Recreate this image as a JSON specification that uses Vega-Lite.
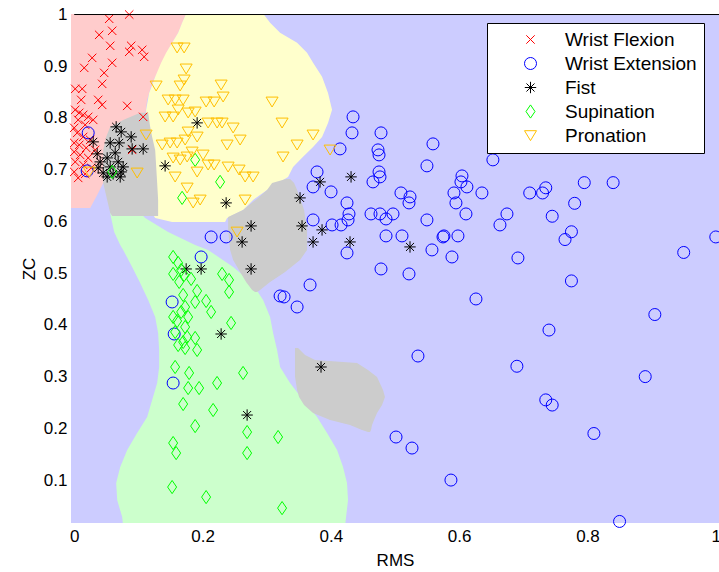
{
"$schema":"https://vega.github.io/schema/vega-lite/v6.json",
"width":648,"height":509,"autosize":"none",
"padding":{"left":71,"top":14,"right":0,"bottom":49},
"background":"white",
"config":{
 "view":{"fill":"#ccccff","stroke":null},
 "axis":{"domain":false,"ticks":false,"tickSize":0,"grid":false,"labelFlush":false,"labelOverlap":false,"labelFont":"Liberation Sans","labelFontSize":17,"labelColor":"#000","titleFont":"Liberation Sans","titleFontSize":17,"titleFontWeight":"normal","titleColor":"#000"},
 "axisX":{"labelPadding":5,"titlePadding":8},
 "axisY":{"labelPadding":4,"titlePadding":5}
},
"datasets":{
"regions":[
{"c":"flex","p":"a","y":1.002,"x0":-0.01,"x1":0.1745},
{"c":"flex","p":"a","y":0.9646,"x0":-0.01,"x1":0.1620},
{"c":"flex","p":"a","y":0.9317,"x0":-0.01,"x1":0.1464},
{"c":"flex","p":"a","y":0.8988,"x0":-0.01,"x1":0.1340},
{"c":"flex","p":"a","y":0.8679,"x0":-0.01,"x1":0.1215},
{"c":"flex","p":"a","y":0.8350,"x0":-0.01,"x1":0.1137},
{"c":"flex","p":"a","y":0.8060,"x0":-0.01,"x1":0.1106},
{"c":"flex","p":"a","y":0.7383,"x0":-0.01,"x1":0.1028},
{"c":"flex","p":"a","y":0.6745,"x0":-0.01,"x1":0.0452},
{"c":"flex","p":"a","y":0.6513,"x0":-0.01,"x1":0.0358},
{"c":"flex","p":"a","y":0.6261,"x0":-0.01,"x1":0.0249},
{"c":"pron","p":"a","y":1.002,"x0":0.1745,"x1":0.2944},
{"c":"pron","p":"a","y":0.9839,"x0":0.1682,"x1":0.3053},
{"c":"pron","p":"a","y":0.9646,"x0":0.1620,"x1":0.3209},
{"c":"pron","p":"a","y":0.9453,"x0":0.1526,"x1":0.3474},
{"c":"pron","p":"a","y":0.9259,"x0":0.1433,"x1":0.3629},
{"c":"pron","p":"a","y":0.9066,"x0":0.1355,"x1":0.3723},
{"c":"pron","p":"a","y":0.8795,"x0":0.1262,"x1":0.3863},
{"c":"pron","p":"a","y":0.8485,"x0":0.1168,"x1":0.3956},
{"c":"pron","p":"a","y":0.8157,"x0":0.1121,"x1":0.4019},
{"c":"pron","p":"a","y":0.7905,"x0":0.1121,"x1":0.3956},
{"c":"pron","p":"a","y":0.7634,"x0":0.1153,"x1":0.3863},
{"c":"pron","p":"a","y":0.7441,"x0":0.1184,"x1":0.3723},
{"c":"pron","p":"a","y":0.7248,"x0":0.1184,"x1":0.3567},
{"c":"pron","p":"a","y":0.7054,"x0":0.1184,"x1":0.3411},
{"c":"pron","p":"a","y":0.6861,"x0":0.1184,"x1":0.3333},
{"c":"pron","p":"a","y":0.6803,"x0":0.1184,"x1":0.3255},
{"c":"pron","p":"a","y":0.6609,"x0":0.1184,"x1":0.3006},
{"c":"pron","p":"a","y":0.6416,"x0":0.1184,"x1":0.2788},
{"c":"pron","p":"a","y":0.6222,"x0":0.1184,"x1":0.2632},
{"c":"pron","p":"a","y":0.6068,"x0":0.1262,"x1":0.2383},
{"c":"pron","p":"a","y":0.5990,"x0":0.1526,"x1":0.2352},
{"c":"sup","p":"a","y":0.6164,"x0":0.0561,"x1":0.1028},
{"c":"sup","p":"a","y":0.6068,"x0":0.0576,"x1":0.1106},
{"c":"sup","p":"a","y":0.5797,"x0":0.0623,"x1":0.1464},
{"c":"sup","p":"a","y":0.5545,"x0":0.0717,"x1":0.1885},
{"c":"sup","p":"a","y":0.5449,"x0":0.0763,"x1":0.2087},
{"c":"sup","p":"a","y":0.5120,"x0":0.0903,"x1":0.2477},
{"c":"sup","p":"a","y":0.4810,"x0":0.1028,"x1":0.2773},
{"c":"sup","p":"a","y":0.4482,"x0":0.1153,"x1":0.2944},
{"c":"sup","p":"a","y":0.4153,"x0":0.1262,"x1":0.3053},
{"c":"sup","p":"a","y":0.3843,"x0":0.1308,"x1":0.3100},
{"c":"sup","p":"a","y":0.3515,"x0":0.1324,"x1":0.3162},
{"c":"sup","p":"a","y":0.3186,"x0":0.1324,"x1":0.3209},
{"c":"sup","p":"a","y":0.2876,"x0":0.1293,"x1":0.3364},
{"c":"sup","p":"a","y":0.2547,"x0":0.1215,"x1":0.3567},
{"c":"sup","p":"a","y":0.2219,"x0":0.1137,"x1":0.3785},
{"c":"sup","p":"a","y":0.1909,"x0":0.0981,"x1":0.3941},
{"c":"sup","p":"a","y":0.1580,"x0":0.0826,"x1":0.4097},
{"c":"sup","p":"a","y":0.1251,"x0":0.0717,"x1":0.4190},
{"c":"sup","p":"a","y":0.0942,"x0":0.0654,"x1":0.4252},
{"c":"sup","p":"a","y":0.0613,"x0":0.0670,"x1":0.4268},
{"c":"sup","p":"a","y":0.0284,"x0":0.0748,"x1":0.4237},
{"c":"sup","p":"a","y":0.0100,"x0":0.0763,"x1":0.4221},
{"c":"fist","p":"a","y":0.8099,"x0":0.1028,"x1":0.1153},
{"c":"fist","p":"a","y":0.7963,"x0":0.0763,"x1":0.1168},
{"c":"fist","p":"a","y":0.7828,"x0":0.0561,"x1":0.1184},
{"c":"fist","p":"a","y":0.7634,"x0":0.0498,"x1":0.1215},
{"c":"fist","p":"a","y":0.7383,"x0":0.0452,"x1":0.1262},
{"c":"fist","p":"a","y":0.6745,"x0":0.0452,"x1":0.1293},
{"c":"fist","p":"a","y":0.6416,"x0":0.0514,"x1":0.1308},
{"c":"fist","p":"a","y":0.6164,"x0":0.0561,"x1":0.1308},
{"c":"fist","p":"a","y":0.6106,"x0":0.0592,"x1":0.1308},
{"c":"fist","p":"b","y":0.6822,"x0":0.3302,"x1":0.3364},
{"c":"fist","p":"b","y":0.6745,"x0":0.3084,"x1":0.3427},
{"c":"fist","p":"b","y":0.6609,"x0":0.3006,"x1":0.3474},
{"c":"fist","p":"b","y":0.6455,"x0":0.2866,"x1":0.3520},
{"c":"fist","p":"b","y":0.6222,"x0":0.2632,"x1":0.3583},
{"c":"fist","p":"b","y":0.6087,"x0":0.2399,"x1":0.3598},
{"c":"fist","p":"b","y":0.5836,"x0":0.2399,"x1":0.3629},
{"c":"fist","p":"b","y":0.5449,"x0":0.2430,"x1":0.3629},
{"c":"fist","p":"b","y":0.5255,"x0":0.2477,"x1":0.3520},
{"c":"fist","p":"b","y":0.5023,"x0":0.2586,"x1":0.3287},
{"c":"fist","p":"b","y":0.4830,"x0":0.2679,"x1":0.3053},
{"c":"fist","p":"b","y":0.4675,"x0":0.2773,"x1":0.2897},
{"c":"fist","p":"b","y":0.4636,"x0":0.2819,"x1":0.2850},
{"c":"fist","p":"c","y":0.3553,"x0":0.3442,"x1":0.3489},
{"c":"fist","p":"c","y":0.3418,"x0":0.3442,"x1":0.3598},
{"c":"fist","p":"c","y":0.3321,"x0":0.3442,"x1":0.3754},
{"c":"fist","p":"c","y":0.3263,"x0":0.3442,"x1":0.4408},
{"c":"fist","p":"c","y":0.3128,"x0":0.3442,"x1":0.4579},
{"c":"fist","p":"c","y":0.2992,"x0":0.3442,"x1":0.4720},
{"c":"fist","p":"c","y":0.2741,"x0":0.3474,"x1":0.4813},
{"c":"fist","p":"c","y":0.2605,"x0":0.3505,"x1":0.4844},
{"c":"fist","p":"c","y":0.2451,"x0":0.3583,"x1":0.4798},
{"c":"fist","p":"c","y":0.2296,"x0":0.3723,"x1":0.4720},
{"c":"fist","p":"c","y":0.2161,"x0":0.3988,"x1":0.4673},
{"c":"fist","p":"c","y":0.2064,"x0":0.4299,"x1":0.4642},
{"c":"fist","p":"c","y":0.1967,"x0":0.4486,"x1":0.4626},
{"c":"fist","p":"c","y":0.1928,"x0":0.4579,"x1":0.4611}
],
"points":[
{"cls":"Wrist Flexion","x":0.0857,"y":1.0},
{"cls":"Wrist Flexion","x":0.0545,"y":0.9917},
{"cls":"Wrist Flexion","x":0.0592,"y":0.9685},
{"cls":"Wrist Flexion","x":0.0389,"y":0.9607},
{"cls":"Wrist Flexion","x":0.0561,"y":0.9395},
{"cls":"Wrist Flexion","x":0.0888,"y":0.9395},
{"cls":"Wrist Flexion","x":0.1059,"y":0.9317},
{"cls":"Wrist Flexion","x":0.0857,"y":0.9279},
{"cls":"Wrist Flexion","x":0.1090,"y":0.9182},
{"cls":"Wrist Flexion","x":0.0280,"y":0.9162},
{"cls":"Wrist Flexion","x":0.0592,"y":0.9066},
{"cls":"Wrist Flexion","x":0.0156,"y":0.8969},
{"cls":"Wrist Flexion","x":0.0467,"y":0.8872},
{"cls":"Wrist Flexion","x":0.0436,"y":0.8660},
{"cls":"Wrist Flexion","x":0.0016,"y":0.8563},
{"cls":"Wrist Flexion","x":0.0125,"y":0.8563},
{"cls":"Wrist Flexion","x":0.0109,"y":0.8350},
{"cls":"Wrist Flexion","x":0.0374,"y":0.8350},
{"cls":"Wrist Flexion","x":0.0436,"y":0.8253},
{"cls":"Wrist Flexion","x":0.0826,"y":0.8234},
{"cls":"Wrist Flexion","x":0.1075,"y":0.8021},
{"cls":"Wrist Flexion","x":0.0016,"y":0.8157},
{"cls":"Wrist Flexion","x":0.0078,"y":0.8099},
{"cls":"Wrist Flexion","x":0.0140,"y":0.8060},
{"cls":"Wrist Flexion","x":0.0218,"y":0.8021},
{"cls":"Wrist Flexion","x":0.0296,"y":0.7963},
{"cls":"Wrist Flexion","x":0.0062,"y":0.7963},
{"cls":"Wrist Flexion","x":0.0171,"y":0.7867},
{"cls":"Wrist Flexion","x":0.0000,"y":0.7809},
{"cls":"Wrist Flexion","x":0.0047,"y":0.7712},
{"cls":"Wrist Flexion","x":0.0140,"y":0.7634},
{"cls":"Wrist Flexion","x":0.0249,"y":0.7576},
{"cls":"Wrist Flexion","x":0.0000,"y":0.7518},
{"cls":"Wrist Flexion","x":0.0078,"y":0.7480},
{"cls":"Wrist Flexion","x":0.0187,"y":0.7422},
{"cls":"Wrist Flexion","x":0.0327,"y":0.7383},
{"cls":"Wrist Flexion","x":0.0000,"y":0.7344},
{"cls":"Wrist Flexion","x":0.0093,"y":0.7286},
{"cls":"Wrist Flexion","x":0.0218,"y":0.7228},
{"cls":"Wrist Flexion","x":0.0016,"y":0.7151},
{"cls":"Wrist Flexion","x":0.0140,"y":0.7093},
{"cls":"Wrist Flexion","x":0.0265,"y":0.7035},
{"cls":"Wrist Flexion","x":0.0000,"y":0.6957},
{"cls":"Wrist Flexion","x":0.0171,"y":0.6919},
{"cls":"Wrist Flexion","x":0.0062,"y":0.6841},
{"cls":"Wrist Flexion","x":0.0903,"y":0.7383},
{"cls":"Wrist Extension","x":0.0218,"y":0.7712},
{"cls":"Wrist Extension","x":0.0202,"y":0.6977},
{"cls":"Wrist Extension","x":0.1978,"y":0.5313},
{"cls":"Wrist Extension","x":0.1526,"y":0.4443},
{"cls":"Wrist Extension","x":0.1558,"y":0.3824},
{"cls":"Wrist Extension","x":0.1542,"y":0.2876},
{"cls":"Wrist Extension","x":0.2134,"y":0.5700},
{"cls":"Wrist Extension","x":0.2368,"y":0.5700},
{"cls":"Wrist Extension","x":0.3209,"y":0.4559},
{"cls":"Wrist Extension","x":0.3271,"y":0.4540},
{"cls":"Wrist Extension","x":0.3474,"y":0.4346},
{"cls":"Wrist Extension","x":0.3676,"y":0.4772},
{"cls":"Wrist Extension","x":0.4252,"y":0.5391},
{"cls":"Wrist Extension","x":0.4782,"y":0.5081},
{"cls":"Wrist Extension","x":0.5218,"y":0.4985},
{"cls":"Wrist Extension","x":0.5576,"y":0.5449},
{"cls":"Wrist Extension","x":0.5888,"y":0.5313},
{"cls":"Wrist Extension","x":0.5358,"y":0.3398},
{"cls":"Wrist Extension","x":0.5016,"y":0.1832},
{"cls":"Wrist Extension","x":0.5265,"y":0.1619},
{"cls":"Wrist Extension","x":0.5872,"y":0.1000},
{"cls":"Wrist Extension","x":0.4346,"y":0.8021},
{"cls":"Wrist Extension","x":0.4330,"y":0.7712},
{"cls":"Wrist Extension","x":0.4782,"y":0.7712},
{"cls":"Wrist Extension","x":0.4735,"y":0.7383},
{"cls":"Wrist Extension","x":0.4751,"y":0.7286},
{"cls":"Wrist Extension","x":0.5592,"y":0.7499},
{"cls":"Wrist Extension","x":0.4143,"y":0.7402},
{"cls":"Wrist Extension","x":0.3785,"y":0.6957},
{"cls":"Wrist Extension","x":0.3723,"y":0.6667},
{"cls":"Wrist Extension","x":0.4003,"y":0.6571},
{"cls":"Wrist Extension","x":0.4252,"y":0.6358},
{"cls":"Wrist Extension","x":0.4283,"y":0.6145},
{"cls":"Wrist Extension","x":0.4268,"y":0.6029},
{"cls":"Wrist Extension","x":0.4159,"y":0.5932},
{"cls":"Wrist Extension","x":0.4019,"y":0.5932},
{"cls":"Wrist Extension","x":0.3723,"y":0.6029},
{"cls":"Wrist Extension","x":0.4751,"y":0.6957},
{"cls":"Wrist Extension","x":0.4657,"y":0.6764},
{"cls":"Wrist Extension","x":0.4766,"y":0.6861},
{"cls":"Wrist Extension","x":0.5093,"y":0.6551},
{"cls":"Wrist Extension","x":0.5234,"y":0.6474},
{"cls":"Wrist Extension","x":0.5218,"y":0.6358},
{"cls":"Wrist Extension","x":0.5498,"y":0.7074},
{"cls":"Wrist Extension","x":0.4626,"y":0.6145},
{"cls":"Wrist Extension","x":0.4766,"y":0.6145},
{"cls":"Wrist Extension","x":0.4969,"y":0.6145},
{"cls":"Wrist Extension","x":0.4860,"y":0.6048},
{"cls":"Wrist Extension","x":0.5498,"y":0.6029},
{"cls":"Wrist Extension","x":0.4860,"y":0.5720},
{"cls":"Wrist Extension","x":0.5109,"y":0.5720},
{"cls":"Wrist Extension","x":0.5763,"y":0.5720},
{"cls":"Wrist Extension","x":0.5748,"y":0.5700},
{"cls":"Wrist Extension","x":0.5981,"y":0.5720},
{"cls":"Wrist Extension","x":0.6044,"y":0.6880},
{"cls":"Wrist Extension","x":0.6028,"y":0.6764},
{"cls":"Wrist Extension","x":0.6121,"y":0.6667},
{"cls":"Wrist Extension","x":0.5919,"y":0.6551},
{"cls":"Wrist Extension","x":0.5950,"y":0.6358},
{"cls":"Wrist Extension","x":0.6106,"y":0.6145},
{"cls":"Wrist Extension","x":0.6355,"y":0.6551},
{"cls":"Wrist Extension","x":0.6526,"y":0.7190},
{"cls":"Wrist Extension","x":0.6745,"y":0.6145},
{"cls":"Wrist Extension","x":0.6636,"y":0.5932},
{"cls":"Wrist Extension","x":0.6916,"y":0.5294},
{"cls":"Wrist Extension","x":0.6262,"y":0.4501},
{"cls":"Wrist Extension","x":0.7100,"y":0.6550},
{"cls":"Wrist Extension","x":0.7350,"y":0.6650},
{"cls":"Wrist Extension","x":0.7300,"y":0.6550},
{"cls":"Wrist Extension","x":0.7950,"y":0.6750},
{"cls":"Wrist Extension","x":0.8400,"y":0.6750},
{"cls":"Wrist Extension","x":0.7800,"y":0.6350},
{"cls":"Wrist Extension","x":0.7450,"y":0.6100},
{"cls":"Wrist Extension","x":0.7650,"y":0.5650},
{"cls":"Wrist Extension","x":0.7750,"y":0.5800},
{"cls":"Wrist Extension","x":0.7750,"y":0.4850},
{"cls":"Wrist Extension","x":0.7400,"y":0.3900},
{"cls":"Wrist Extension","x":0.9050,"y":0.4200},
{"cls":"Wrist Extension","x":0.9500,"y":0.5400},
{"cls":"Wrist Extension","x":1.0000,"y":0.5700},
{"cls":"Wrist Extension","x":0.6900,"y":0.3200},
{"cls":"Wrist Extension","x":0.7350,"y":0.2550},
{"cls":"Wrist Extension","x":0.7450,"y":0.2450},
{"cls":"Wrist Extension","x":0.8900,"y":0.3000},
{"cls":"Wrist Extension","x":0.8100,"y":0.1900},
{"cls":"Wrist Extension","x":0.8500,"y":0.0200},
{"cls":"Fist","x":0.0654,"y":0.7828},
{"cls":"Fist","x":0.0732,"y":0.7731},
{"cls":"Fist","x":0.0888,"y":0.7634},
{"cls":"Fist","x":0.0296,"y":0.7538},
{"cls":"Fist","x":0.0561,"y":0.7518},
{"cls":"Fist","x":0.0701,"y":0.7518},
{"cls":"Fist","x":0.0903,"y":0.7402},
{"cls":"Fist","x":0.1075,"y":0.7402},
{"cls":"Fist","x":0.0358,"y":0.7306},
{"cls":"Fist","x":0.0639,"y":0.7325},
{"cls":"Fist","x":0.0405,"y":0.7151},
{"cls":"Fist","x":0.0514,"y":0.7228},
{"cls":"Fist","x":0.0685,"y":0.7151},
{"cls":"Fist","x":0.0374,"y":0.7035},
{"cls":"Fist","x":0.0561,"y":0.7054},
{"cls":"Fist","x":0.0763,"y":0.7054},
{"cls":"Fist","x":0.0452,"y":0.6938},
{"cls":"Fist","x":0.0607,"y":0.6919},
{"cls":"Fist","x":0.0732,"y":0.6957},
{"cls":"Fist","x":0.0514,"y":0.6861},
{"cls":"Fist","x":0.0717,"y":0.6861},
{"cls":"Fist","x":0.1417,"y":0.7074},
{"cls":"Fist","x":0.1916,"y":0.7905},
{"cls":"Fist","x":0.2368,"y":0.6358},
{"cls":"Fist","x":0.2757,"y":0.5913},
{"cls":"Fist","x":0.2617,"y":0.5603},
{"cls":"Fist","x":0.2757,"y":0.5081},
{"cls":"Fist","x":0.3520,"y":0.6455},
{"cls":"Fist","x":0.3551,"y":0.5913},
{"cls":"Fist","x":0.3723,"y":0.5603},
{"cls":"Fist","x":0.3863,"y":0.5836},
{"cls":"Fist","x":0.4315,"y":0.6861},
{"cls":"Fist","x":0.3832,"y":0.6764},
{"cls":"Fist","x":0.4299,"y":0.5603},
{"cls":"Fist","x":0.5234,"y":0.5507},
{"cls":"Fist","x":0.1745,"y":0.5081},
{"cls":"Fist","x":0.1978,"y":0.5081},
{"cls":"Fist","x":0.2290,"y":0.3824},
{"cls":"Fist","x":0.2695,"y":0.2257},
{"cls":"Fist","x":0.3847,"y":0.3186},
{"cls":"Supination","x":0.0592,"y":0.6957},
{"cls":"Supination","x":0.1885,"y":0.7190},
{"cls":"Supination","x":0.2274,"y":0.6764},
{"cls":"Supination","x":0.1682,"y":0.6455},
{"cls":"Supination","x":0.1542,"y":0.5313},
{"cls":"Supination","x":0.1620,"y":0.5197},
{"cls":"Supination","x":0.1667,"y":0.5062},
{"cls":"Supination","x":0.1542,"y":0.4985},
{"cls":"Supination","x":0.1713,"y":0.4965},
{"cls":"Supination","x":0.1822,"y":0.4888},
{"cls":"Supination","x":0.1636,"y":0.4830},
{"cls":"Supination","x":0.2305,"y":0.4985},
{"cls":"Supination","x":0.2414,"y":0.4868},
{"cls":"Supination","x":0.2414,"y":0.4636},
{"cls":"Supination","x":0.1698,"y":0.4578},
{"cls":"Supination","x":0.1916,"y":0.4656},
{"cls":"Supination","x":0.1885,"y":0.4443},
{"cls":"Supination","x":0.2056,"y":0.4462},
{"cls":"Supination","x":0.2134,"y":0.4250},
{"cls":"Supination","x":0.1729,"y":0.4346},
{"cls":"Supination","x":0.1667,"y":0.4250},
{"cls":"Supination","x":0.1542,"y":0.4153},
{"cls":"Supination","x":0.1776,"y":0.4153},
{"cls":"Supination","x":0.1604,"y":0.4075},
{"cls":"Supination","x":0.2445,"y":0.4037},
{"cls":"Supination","x":0.1729,"y":0.3959},
{"cls":"Supination","x":0.1573,"y":0.3863},
{"cls":"Supination","x":0.1760,"y":0.3766},
{"cls":"Supination","x":0.1885,"y":0.3747},
{"cls":"Supination","x":0.1698,"y":0.3669},
{"cls":"Supination","x":0.1620,"y":0.3611},
{"cls":"Supination","x":0.1729,"y":0.3553},
{"cls":"Supination","x":0.1916,"y":0.3515},
{"cls":"Supination","x":0.1573,"y":0.3186},
{"cls":"Supination","x":0.1791,"y":0.3070},
{"cls":"Supination","x":0.2632,"y":0.3070},
{"cls":"Supination","x":0.2227,"y":0.2876},
{"cls":"Supination","x":0.1947,"y":0.2779},
{"cls":"Supination","x":0.1776,"y":0.2779},
{"cls":"Supination","x":0.1698,"y":0.2470},
{"cls":"Supination","x":0.2165,"y":0.2354},
{"cls":"Supination","x":0.1885,"y":0.2044},
{"cls":"Supination","x":0.2695,"y":0.1928},
{"cls":"Supination","x":0.3178,"y":0.1832},
{"cls":"Supination","x":0.1542,"y":0.1716},
{"cls":"Supination","x":0.1589,"y":0.1522},
{"cls":"Supination","x":0.2695,"y":0.1522},
{"cls":"Supination","x":0.1526,"y":0.0865},
{"cls":"Supination","x":0.2056,"y":0.0671},
{"cls":"Supination","x":0.3240,"y":0.0458},
{"cls":"Pronation","x":0.1604,"y":0.9356},
{"cls":"Pronation","x":0.1713,"y":0.9356},
{"cls":"Pronation","x":0.1745,"y":0.8950},
{"cls":"Pronation","x":0.1713,"y":0.8737},
{"cls":"Pronation","x":0.1277,"y":0.8621},
{"cls":"Pronation","x":0.1651,"y":0.8621},
{"cls":"Pronation","x":0.2290,"y":0.8640},
{"cls":"Pronation","x":0.2321,"y":0.8408},
{"cls":"Pronation","x":0.3084,"y":0.8311},
{"cls":"Pronation","x":0.1464,"y":0.8350},
{"cls":"Pronation","x":0.1573,"y":0.8350},
{"cls":"Pronation","x":0.1698,"y":0.8350},
{"cls":"Pronation","x":0.2056,"y":0.8311},
{"cls":"Pronation","x":0.2181,"y":0.8311},
{"cls":"Pronation","x":0.1417,"y":0.8021},
{"cls":"Pronation","x":0.1542,"y":0.8021},
{"cls":"Pronation","x":0.1620,"y":0.8157},
{"cls":"Pronation","x":0.1776,"y":0.8099},
{"cls":"Pronation","x":0.1885,"y":0.8118},
{"cls":"Pronation","x":0.2087,"y":0.7905},
{"cls":"Pronation","x":0.2227,"y":0.7905},
{"cls":"Pronation","x":0.2305,"y":0.7905},
{"cls":"Pronation","x":0.2477,"y":0.7809},
{"cls":"Pronation","x":0.3240,"y":0.7905},
{"cls":"Pronation","x":0.1121,"y":0.7673},
{"cls":"Pronation","x":0.1371,"y":0.7480},
{"cls":"Pronation","x":0.1495,"y":0.7518},
{"cls":"Pronation","x":0.1604,"y":0.7518},
{"cls":"Pronation","x":0.1729,"y":0.7576},
{"cls":"Pronation","x":0.1776,"y":0.7731},
{"cls":"Pronation","x":0.1916,"y":0.7634},
{"cls":"Pronation","x":0.2383,"y":0.7480},
{"cls":"Pronation","x":0.2586,"y":0.7576},
{"cls":"Pronation","x":0.3474,"y":0.7480},
{"cls":"Pronation","x":0.3723,"y":0.7673},
{"cls":"Pronation","x":0.1542,"y":0.7228},
{"cls":"Pronation","x":0.1651,"y":0.7190},
{"cls":"Pronation","x":0.1760,"y":0.7248},
{"cls":"Pronation","x":0.1838,"y":0.7344},
{"cls":"Pronation","x":0.2009,"y":0.7286},
{"cls":"Pronation","x":0.2087,"y":0.7093},
{"cls":"Pronation","x":0.1916,"y":0.6957},
{"cls":"Pronation","x":0.1573,"y":0.6861},
{"cls":"Pronation","x":0.2181,"y":0.7093},
{"cls":"Pronation","x":0.2399,"y":0.7054},
{"cls":"Pronation","x":0.2570,"y":0.6996},
{"cls":"Pronation","x":0.2664,"y":0.6861},
{"cls":"Pronation","x":0.2788,"y":0.6861},
{"cls":"Pronation","x":0.0981,"y":0.6938},
{"cls":"Pronation","x":0.1760,"y":0.6648},
{"cls":"Pronation","x":0.1854,"y":0.6358},
{"cls":"Pronation","x":0.1963,"y":0.6416},
{"cls":"Pronation","x":0.2664,"y":0.6416},
{"cls":"Pronation","x":0.3255,"y":0.7248},
{"cls":"Pronation","x":0.3988,"y":0.7383},
{"cls":"Pronation","x":0.2539,"y":0.5797},
{"cls":"Pronation","x":0.0234,"y":0.6957}
]
},
"layer":[
{"data":{"name":"regions"},"transform":[{"filter":"datum.c==='flex'"}],
 "mark":{"type":"area","orient":"horizontal","color":"#ffcccc","opacity":1,"clip":true},
 "encoding":{
  "y":{"field":"y","type":"quantitative","scale":{"domain":[0.017,1.001],"nice":false,"zero":false},"axis":{"values":[0.1,0.2,0.3,0.4,0.5,0.6,0.7,0.8,0.9,1],"format":"~g"},"title":"ZC"},
  "x":{"field":"x0","type":"quantitative","scale":{"domain":[-0.005,1.005],"nice":false,"zero":false},"axis":{"values":[0,0.2,0.4,0.6,0.8,1],"format":"~g"},"title":"RMS"},
  "x2":{"field":"x1"},"detail":{"field":"p"}}},
{"data":{"name":"regions"},"transform":[{"filter":"datum.c==='pron'"}],
 "mark":{"type":"area","orient":"horizontal","color":"#ffffcc","opacity":1,"clip":true},
 "encoding":{"y":{"field":"y","type":"quantitative","title":"ZC"},"x":{"field":"x0","type":"quantitative","title":"RMS"},"x2":{"field":"x1"},"detail":{"field":"p"}}},
{"data":{"name":"regions"},"transform":[{"filter":"datum.c==='sup'"}],
 "mark":{"type":"area","orient":"horizontal","color":"#ccffcc","opacity":1,"clip":true},
 "encoding":{"y":{"field":"y","type":"quantitative","title":"ZC"},"x":{"field":"x0","type":"quantitative","title":"RMS"},"x2":{"field":"x1"},"detail":{"field":"p"}}},
{"data":{"name":"regions"},"transform":[{"filter":"datum.c==='fist'"}],
 "mark":{"type":"area","orient":"horizontal","color":"#cccccc","opacity":1,"clip":true},
 "encoding":{"y":{"field":"y","type":"quantitative","title":"ZC"},"x":{"field":"x0","type":"quantitative","title":"RMS"},"x2":{"field":"x1"},"detail":{"field":"p"}}},
{"data":{"name":"points"},
 "mark":{"type":"point","filled":false,"strokeWidth":1,"size":144,"opacity":1},
 "encoding":{
  "x":{"field":"x","type":"quantitative","title":"RMS"},
  "y":{"field":"y","type":"quantitative","title":"ZC"},
  "color":{"field":"cls","type":"nominal","scale":{"domain":["Wrist Flexion","Wrist Extension","Fist","Supination","Pronation"],"range":["#ff0000","#0000ff","#000000","#00ff00","#ffbf00"]},
   "legend":{"title":null,"orient":"none","legendX":416,"legendY":9,"direction":"vertical","strokeColor":"#000","fillColor":"#fff","padding":7,"symbolOffset":27,"labelOffset":25,"rowPadding":4,"symbolSize":144,"symbolStrokeWidth":1,"labelFont":"Liberation Sans","labelFontSize":19,"labelColor":"#000"}},
  "shape":{"field":"cls","type":"nominal","scale":{"domain":["Wrist Flexion","Wrist Extension","Fist","Supination","Pronation"],"range":["M-0.7,-0.7L0.7,0.7M-0.7,0.7L0.7,-0.7","circle","M-0.95,0L0.95,0M0,-0.95L0,0.95M-0.67,-0.67L0.67,0.67M-0.67,0.67L0.67,-0.67","M0,-1.1L0.75,0L0,1.1L-0.75,0Z","M-1,-0.8L1,-0.8L0,0.85Z"]},
   "legend":{"title":null,"orient":"none","legendX":416,"legendY":9,"direction":"vertical","strokeColor":"#000","fillColor":"#fff","padding":7,"symbolOffset":27,"labelOffset":25,"rowPadding":4,"symbolSize":144,"symbolStrokeWidth":1,"labelFont":"Liberation Sans","labelFontSize":19,"labelColor":"#000"}}}},
{"data":{"values":[{}]},
 "mark":{"type":"rule","color":"#000","strokeWidth":1},
 "encoding":{"y":{"datum":1.0},"x":{"datum":0},"x2":{"datum":1.005}}}
]
}
